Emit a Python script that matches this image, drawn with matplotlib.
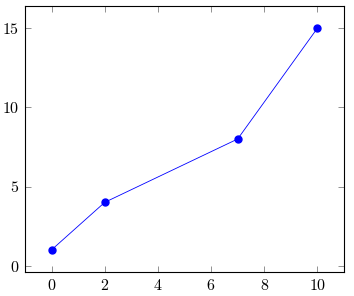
import matplotlib
matplotlib.use("Agg")
import matplotlib.pyplot as plt

# data points
x = [0, 2, 7, 10]
y = [1, 4, 8, 15]

plt.rcParams['font.family'] = ['cmr10', 'DejaVu Serif']
plt.rcParams['axes.formatter.use_mathtext'] = True

fig = plt.figure(figsize=(3.54, 2.96), dpi=100)
ax = fig.add_axes([25 / 354, 24 / 296, 319 / 354, 266 / 296])

ax.plot(x, y, color='blue', linewidth=0.6, marker='o', markersize=5)

ax.set_xlim(-1, 11)
ax.set_ylim(-0.4, 16.4)
ax.set_xticks([0, 2, 4, 6, 8, 10])
ax.set_yticks([0, 5, 10, 15])

for s in ax.spines.values():
    s.set_linewidth(0.8)
ax.tick_params(direction='in', length=4, width=0.5, top=True, right=True,
               labelsize=11.5, pad=4)
ax.tick_params(axis='x', colors='#666666', labelcolor='black')
ax.tick_params(axis='y', colors='#666666', labelcolor='black')

plt.savefig('out.png', dpi=100)
